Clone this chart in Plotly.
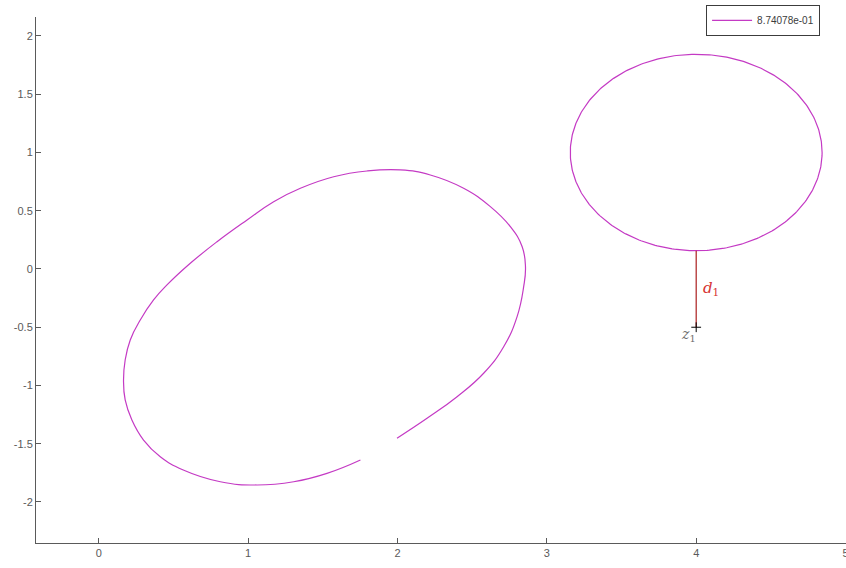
import numpy as np
import plotly.graph_objects as go

# Open contour (traced from the upper gap end, counter-clockwise round to the lower gap end)
curve_x = [1.997, 2.198, 2.399, 2.577, 2.711, 2.801, 2.845, 2.857, 2.835, 2.756,
           2.622, 2.443, 2.220, 2.019, 1.796, 1.573, 1.350, 1.171, 0.993, 0.792,
           0.613, 0.457, 0.367, 0.278, 0.211, 0.177, 0.166, 0.177, 0.222, 0.300,
           0.412, 0.566, 0.814, 1.060, 1.305, 1.528, 1.752]
curve_y = [-1.453, -1.282, -1.096, -0.895, -0.667, -0.409, -0.152, 0.020, 0.191, 0.363,
           0.535, 0.693, 0.807, 0.850, 0.841, 0.792, 0.693, 0.578, 0.421, 0.234,
           0.049, -0.137, -0.266, -0.438, -0.609, -0.781, -0.953, -1.124, -1.296, -1.468,
           -1.611, -1.725, -1.826, -1.854, -1.826, -1.754, -1.639]

# Circle
circle_center = (4.0, 1.0)
circle_radius = 0.843

# Point z1 and its distance segment d1 to the circle
z1 = (4.0, -0.5)
legend_label = "8.74078e-01"

x_tickvals = [0, 1, 2, 3, 4, 5]
x_ticktext = ["0", "1", "2", "3", "4", "5"]
y_tickvals = [-2, -1.5, -1, -0.5, 0, 0.5, 1, 1.5, 2]
y_ticktext = ["-2", "-1.5", "-1", "-0.5", "0", "0.5", "1", "1.5", "2"]

line_color = "rgb(196,58,196)"

t = np.linspace(0, 2 * np.pi, 361)
circ_x = circle_center[0] + circle_radius * np.cos(t)
circ_y = circle_center[1] + circle_radius * np.sin(t)
circle_bottom = circle_center[1] - circle_radius

fig = go.Figure()
fig.add_trace(go.Scatter(x=curve_x, y=curve_y, mode="lines", name=legend_label,
                         line=dict(color=line_color, width=1.2, shape="spline", smoothing=1.3),
                         showlegend=True))
fig.add_trace(go.Scatter(x=circ_x, y=circ_y, mode="lines",
                         line=dict(color=line_color, width=1.2), showlegend=False))
fig.add_trace(go.Scatter(x=[z1[0], z1[0]], y=[circle_bottom, z1[1]], mode="lines",
                         line=dict(color="rgb(170,30,30)", width=1.2), showlegend=False))
fig.add_trace(go.Scatter(x=[z1[0]], y=[z1[1]], mode="markers",
                         marker=dict(symbol="cross-thin", size=7,
                                     line=dict(color="black", width=1)),
                         showlegend=False))

fig.add_annotation(x=z1[0] + 0.1, y=(circle_bottom + z1[1]) / 2,
                   text="<i>d</i><sub>1</sub>", showarrow=False,
                   font=dict(family="DejaVu Serif", size=15, color="rgb(215,50,50)"))
fig.add_annotation(x=z1[0] - 0.05, y=z1[1] - 0.07,
                   text="<i>z</i><sub>1</sub>", showarrow=False,
                   font=dict(family="DejaVu Serif", size=14, color="rgb(110,110,110)"))

axis_common = dict(showgrid=False, zeroline=False, showline=True,
                   linecolor="rgb(90,90,90)", linewidth=1,
                   ticks="inside", ticklen=5, tickcolor="rgb(90,90,90)",
                   tickfont=dict(family="Liberation Sans", size=11, color="rgb(90,90,90)"),
                   ticklabeloverflow="allow", automargin=False, mirror=False)

fig.update_layout(
    width=846, height=568,
    margin=dict(l=36, r=0, t=17, b=25),
    plot_bgcolor="white", paper_bgcolor="white",
    xaxis=dict(range=[-0.42, 5.003], tickvals=x_tickvals, ticktext=x_ticktext, **axis_common),
    yaxis=dict(range=[-2.352, 2.163], tickvals=y_tickvals, ticktext=y_ticktext, **axis_common),
    legend=dict(x=0.968, y=1.023, xanchor="right", yanchor="top",
                bgcolor="white", bordercolor="rgb(60,60,60)", borderwidth=1,
                font=dict(family="Liberation Sans", size=10, color="rgb(60,60,60)"),
                itemwidth=40, tracegroupgap=0),
    showlegend=True,
)

fig.write_html("out.html")
